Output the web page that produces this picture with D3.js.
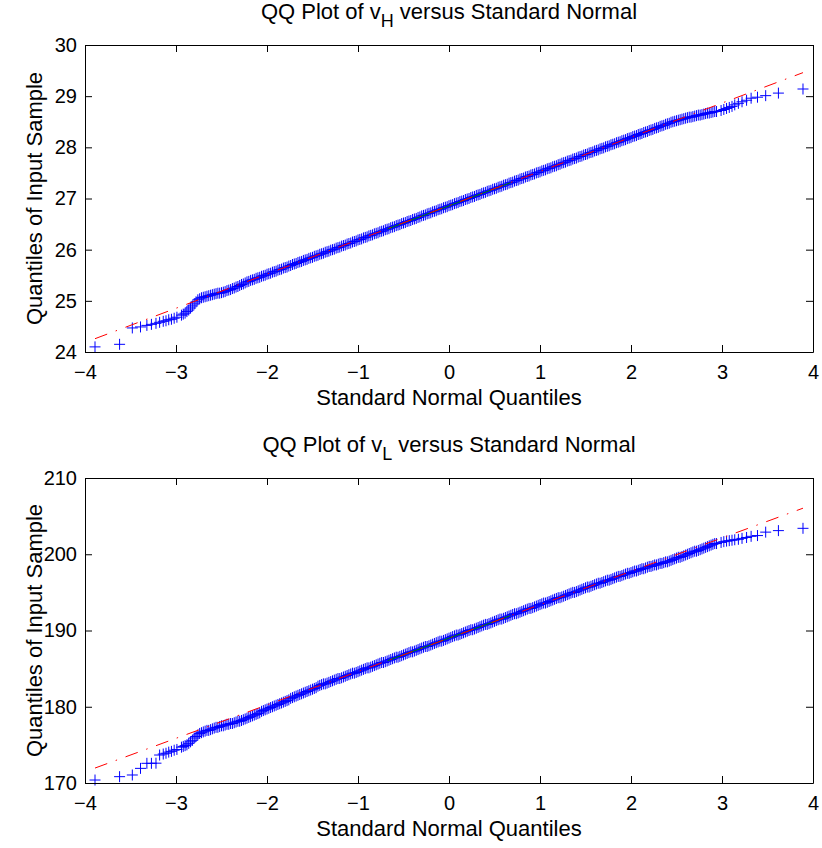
<!DOCTYPE html>
<html>
<head>
<meta charset="utf-8">
<script src="https://cdn.jsdelivr.net/npm/d3@7"></script>
<style>
  body { margin: 0; background: #fff; }
  text { font-family: 'Liberation Sans', Arial, Helvetica, sans-serif; fill: #000; }
  .axis path, .axis line { stroke: #000; }
</style>
</head>
<body>
<svg id="chart" width="822" height="848"></svg>
<script>
// theoretical normal quantiles of the plotted points (shared by both panels)
var quantiles = [
  -3.89, -3.62, -3.48, -3.39, -3.32, -3.27, -3.22, -3.18, -3.14, -3.11, -3.08, -3.05, -3.02, -2.99,
  -2.94, -2.92, -2.90, -2.88, -2.86, -2.84, -2.82, -2.80, -2.78, -2.76,
  -2.74, -2.72, -2.70, -2.68, -2.66, -2.64, -2.62, -2.60, -2.58, -2.56,
  -2.54, -2.52, -2.50, -2.48, -2.46, -2.44, -2.42, -2.40, -2.38, -2.36,
  -2.34, -2.32, -2.30, -2.28, -2.26, -2.24, -2.22, -2.20, -2.18, -2.16,
  -2.14, -2.12, -2.10, -2.08, -2.06, -2.04, -2.02, -2.00, -1.98, -1.96,
  -1.94, -1.92, -1.90, -1.88, -1.86, -1.84, -1.82, -1.80, -1.78, -1.76,
  -1.74, -1.72, -1.70, -1.68, -1.66, -1.64, -1.62, -1.60, -1.58, -1.56,
  -1.54, -1.52, -1.50, -1.48, -1.46, -1.44, -1.42, -1.40, -1.38, -1.36,
  -1.34, -1.32, -1.30, -1.28, -1.26, -1.24, -1.22, -1.20, -1.18, -1.16,
  -1.14, -1.12, -1.10, -1.08, -1.06, -1.04, -1.02, -1.00, -0.98, -0.96,
  -0.94, -0.92, -0.90, -0.88, -0.86, -0.84, -0.82, -0.80, -0.78, -0.76,
  -0.74, -0.72, -0.70, -0.68, -0.66, -0.64, -0.62, -0.60, -0.58, -0.56,
  -0.54, -0.52, -0.50, -0.48, -0.46, -0.44, -0.42, -0.40, -0.38, -0.36,
  -0.34, -0.32, -0.30, -0.28, -0.26, -0.24, -0.22, -0.20, -0.18, -0.16,
  -0.14, -0.12, -0.10, -0.08, -0.06, -0.04, -0.02, 0.00, 0.02, 0.04,
  0.06, 0.08, 0.10, 0.12, 0.14, 0.16, 0.18, 0.20, 0.22, 0.24,
  0.26, 0.28, 0.30, 0.32, 0.34, 0.36, 0.38, 0.40, 0.42, 0.44,
  0.46, 0.48, 0.50, 0.52, 0.54, 0.56, 0.58, 0.60, 0.62, 0.64,
  0.66, 0.68, 0.70, 0.72, 0.74, 0.76, 0.78, 0.80, 0.82, 0.84,
  0.86, 0.88, 0.90, 0.92, 0.94, 0.96, 0.98, 1.00, 1.02, 1.04,
  1.06, 1.08, 1.10, 1.12, 1.14, 1.16, 1.18, 1.20, 1.22, 1.24,
  1.26, 1.28, 1.30, 1.32, 1.34, 1.36, 1.38, 1.40, 1.42, 1.44,
  1.46, 1.48, 1.50, 1.52, 1.54, 1.56, 1.58, 1.60, 1.62, 1.64,
  1.66, 1.68, 1.70, 1.72, 1.74, 1.76, 1.78, 1.80, 1.82, 1.84,
  1.86, 1.88, 1.90, 1.92, 1.94, 1.96, 1.98, 2.00, 2.02, 2.04,
  2.06, 2.08, 2.10, 2.12, 2.14, 2.16, 2.18, 2.20, 2.22, 2.24,
  2.26, 2.28, 2.30, 2.32, 2.34, 2.36, 2.38, 2.40, 2.42, 2.44,
  2.46, 2.48, 2.50, 2.52, 2.54, 2.56, 2.58, 2.60, 2.62, 2.64,
  2.66, 2.68, 2.70, 2.72, 2.74, 2.76, 2.78, 2.80, 2.82, 2.84,
  2.86, 2.88, 2.90, 2.92, 2.94,
  2.99, 3.02, 3.05, 3.08, 3.11, 3.14, 3.18, 3.22, 3.27, 3.32, 3.39, 3.48, 3.62, 3.89
]

// sample quantiles of v_H
var vH = [
  24.10, 24.15, 24.47, 24.49, 24.52, 24.54, 24.56, 24.58, 24.60, 24.61, 24.63, 24.64, 24.66, 24.68,
  24.72, 24.74, 24.76, 24.79, 24.82, 24.86, 24.90, 24.94, 24.98, 25.02,
  25.04, 25.06, 25.07, 25.08, 25.09, 25.10, 25.11, 25.12, 25.13, 25.14,
  25.15, 25.15, 25.16, 25.17, 25.18, 25.20, 25.21, 25.22, 25.24, 25.25,
  25.27, 25.28, 25.30, 25.32, 25.33, 25.35, 25.37, 25.38, 25.40, 25.41,
  25.42, 25.44, 25.45, 25.46, 25.48, 25.49, 25.50, 25.52, 25.53, 25.54,
  25.56, 25.57, 25.58, 25.60, 25.61, 25.62, 25.64, 25.65, 25.66, 25.68,
  25.69, 25.71, 25.72, 25.73, 25.75, 25.76, 25.77, 25.79, 25.80, 25.81,
  25.83, 25.84, 25.85, 25.87, 25.88, 25.89, 25.91, 25.92, 25.93, 25.95,
  25.96, 25.97, 25.99, 26.00, 26.01, 26.03, 26.04, 26.05, 26.07, 26.08,
  26.09, 26.11, 26.12, 26.13, 26.15, 26.16, 26.17, 26.19, 26.20, 26.21,
  26.23, 26.24, 26.25, 26.27, 26.28, 26.29, 26.31, 26.32, 26.33, 26.35,
  26.36, 26.37, 26.39, 26.40, 26.41, 26.43, 26.44, 26.45, 26.47, 26.48,
  26.49, 26.51, 26.52, 26.53, 26.55, 26.56, 26.57, 26.59, 26.60, 26.61,
  26.63, 26.64, 26.66, 26.67, 26.68, 26.70, 26.71, 26.72, 26.74, 26.75,
  26.76, 26.78, 26.79, 26.80, 26.82, 26.83, 26.84, 26.86, 26.87, 26.88,
  26.90, 26.91, 26.92, 26.94, 26.95, 26.96, 26.98, 26.99, 27.00, 27.02,
  27.03, 27.04, 27.06, 27.07, 27.08, 27.10, 27.11, 27.12, 27.14, 27.15,
  27.16, 27.18, 27.19, 27.20, 27.22, 27.23, 27.24, 27.26, 27.27, 27.28,
  27.30, 27.31, 27.32, 27.34, 27.35, 27.36, 27.38, 27.39, 27.40, 27.42,
  27.43, 27.44, 27.46, 27.47, 27.48, 27.50, 27.51, 27.52, 27.54, 27.55,
  27.56, 27.58, 27.59, 27.60, 27.62, 27.63, 27.64, 27.66, 27.67, 27.69,
  27.70, 27.71, 27.73, 27.74, 27.75, 27.77, 27.78, 27.79, 27.81, 27.82,
  27.83, 27.85, 27.86, 27.87, 27.89, 27.90, 27.91, 27.93, 27.94, 27.95,
  27.97, 27.98, 27.99, 28.01, 28.02, 28.03, 28.05, 28.06, 28.07, 28.09,
  28.10, 28.11, 28.13, 28.14, 28.15, 28.17, 28.18, 28.19, 28.21, 28.22,
  28.23, 28.25, 28.26, 28.27, 28.29, 28.30, 28.31, 28.33, 28.34, 28.35,
  28.37, 28.38, 28.39, 28.41, 28.42, 28.43, 28.45, 28.46, 28.47, 28.49,
  28.50, 28.51, 28.52, 28.53, 28.54, 28.55, 28.56, 28.57, 28.58, 28.59,
  28.59, 28.60, 28.61, 28.62, 28.63, 28.63, 28.64, 28.65, 28.66, 28.67,
  28.67, 28.68, 28.69, 28.70, 28.70,
  28.72, 28.74, 28.76, 28.78, 28.80, 28.83, 28.86, 28.89, 28.92, 28.96, 28.98, 29.01, 29.06, 29.14
]

// sample quantiles of v_L
var vL = [
  170.39, 170.83, 171.05, 171.92, 172.58, 172.58, 172.60, 173.67, 173.80, 173.90, 174.05, 174.15, 174.30, 174.40,
  174.7, 174.8, 174.9, 175.0, 175.2, 175.4, 175.6, 175.9, 176.1, 176.3,
  176.5, 176.6, 176.7, 176.8, 176.9, 176.9, 177.0, 177.1, 177.2, 177.3,
  177.3, 177.4, 177.5, 177.5, 177.6, 177.7, 177.7, 177.8, 177.8, 177.9,
  178.0, 178.1, 178.1, 178.2, 178.3, 178.4, 178.5, 178.6, 178.7, 178.8,
  178.9, 179.0, 179.1, 179.2, 179.4, 179.5, 179.6, 179.7, 179.8, 179.9,
  180.0, 180.1, 180.2, 180.3, 180.4, 180.5, 180.6, 180.7, 180.8, 180.9,
  181.1, 181.2, 181.3, 181.4, 181.5, 181.6, 181.7, 181.8, 181.9, 182.0,
  182.1, 182.2, 182.3, 182.4, 182.5, 182.7, 182.8, 182.9, 183.0, 183.0,
  183.1, 183.2, 183.3, 183.4, 183.5, 183.6, 183.7, 183.7, 183.8, 183.9,
  184.0, 184.1, 184.2, 184.3, 184.4, 184.4, 184.5, 184.6, 184.7, 184.8,
  184.9, 185.0, 185.1, 185.1, 185.2, 185.3, 185.4, 185.5, 185.6, 185.7,
  185.8, 185.8, 185.9, 186.0, 186.1, 186.2, 186.3, 186.4, 186.5, 186.5,
  186.6, 186.7, 186.8, 186.9, 187.0, 187.1, 187.2, 187.2, 187.3, 187.4,
  187.5, 187.6, 187.7, 187.8, 187.9, 187.9, 188.0, 188.1, 188.2, 188.3,
  188.4, 188.5, 188.6, 188.6, 188.7, 188.8, 188.9, 189.0, 189.1, 189.2,
  189.3, 189.4, 189.4, 189.5, 189.6, 189.7, 189.8, 189.9, 190.0, 190.1,
  190.1, 190.2, 190.3, 190.4, 190.5, 190.6, 190.7, 190.8, 190.8, 190.9,
  191.0, 191.1, 191.2, 191.3, 191.4, 191.5, 191.5, 191.6, 191.7, 191.8,
  191.9, 192.0, 192.1, 192.2, 192.2, 192.3, 192.4, 192.5, 192.6, 192.7,
  192.8, 192.9, 192.9, 193.0, 193.1, 193.2, 193.3, 193.4, 193.5, 193.6,
  193.6, 193.7, 193.8, 193.9, 194.0, 194.1, 194.2, 194.3, 194.3, 194.4,
  194.5, 194.6, 194.7, 194.8, 194.9, 195.0, 195.0, 195.1, 195.2, 195.3,
  195.4, 195.5, 195.6, 195.7, 195.7, 195.8, 195.9, 196.0, 196.1, 196.2,
  196.2, 196.3, 196.4, 196.5, 196.6, 196.6, 196.7, 196.8, 196.9, 197.0,
  197.1, 197.1, 197.2, 197.3, 197.4, 197.5, 197.5, 197.6, 197.7, 197.8,
  197.8, 197.9, 198.0, 198.1, 198.1, 198.2, 198.3, 198.4, 198.4, 198.5,
  198.6, 198.6, 198.7, 198.8, 198.8, 198.9, 199.0, 199.0, 199.1, 199.2,
  199.3, 199.4, 199.5, 199.6, 199.6, 199.7, 199.8, 199.9, 200.0, 200.1,
  200.2, 200.3, 200.4, 200.4, 200.5, 200.6, 200.7, 200.8, 200.9, 201.0,
  201.1, 201.2, 201.3, 201.4, 201.4,
  201.55, 201.65, 201.72, 201.78, 201.84, 201.90, 201.96, 202.08, 202.20, 202.35, 202.45, 202.90, 203.10, 203.40
]

// fitted lines: quartile segment and its extension over the data range
var quartQ = [-0.674, 0.674]
var quartH = [26.405, 27.307]
var quartL = [186.05, 191.95]
var extQ = [-3.89, 3.89]
var extH = [24.26, 29.46]
var extL = [171.96, 206.04]

var xTicks = [-4, -3, -2, -1, 0, 1, 2, 3, 4]
var yTicksH = [24, 25, 26, 27, 28, 29, 30]
var yTicksL = [170, 180, 190, 200, 210]

var svg = d3.select('#chart')
var left = 85, right = 813
var tickLen = 7
var tickFont = 20, labelFont = 22

var x = d3.scaleLinear().domain([-4, 4]).range([left, right])

var fmt = function(d) { return d < 0 ? '\u2212' + Math.abs(d) : '' + d }

function drawPanel(top, bottom, yDomain, yTicks, values, quartY, extY, sub) {
  var y = d3.scaleLinear().domain(yDomain).range([bottom, top])
  var g = svg.append('g')

  // '+' markers
  var pts = quantiles.map(function(q, i) { return [x(q), y(values[i])] })
  g.append('g').selectAll('path.pt')
    .data(pts).enter().append('path')
    .attr('class', 'pt')
    .attr('d', function(p) {
      return 'M' + (p[0] - 5.5) + ',' + p[1] + 'H' + (p[0] + 5.5) +
        'M' + p[0] + ',' + (p[1] - 5.5) + 'V' + (p[1] + 5.5)
    })
    .attr('stroke', '#0000ff')
    .attr('stroke-width', 1)
    .attr('fill', 'none')

  var line = d3.line()
    .x(function(d) { return x(d[0]) })
    .y(function(d) { return y(d[1]) })

  g.append('path')
    .attr('d', line(quartQ.map(function(q, i) { return [q, quartY[i]] })))
    .attr('stroke', '#008000')
    .attr('stroke-width', 1)
    .attr('fill', 'none')

  g.append('path')
    .attr('d', line(extQ.map(function(q, i) { return [q, extY[i]] })))
    .attr('stroke', '#ff0000')
    .attr('stroke-width', 1)
    .attr('stroke-dasharray', '13,9,1.5,9')
    .attr('fill', 'none')

  // box with inward ticks on all four sides
  var _axis = function(gen, tx, ty, labels) {
    var a = g.append('g').attr('class', 'axis')
      .attr('transform', 'translate(' + tx + ',' + ty + ')')
      .call(gen)
    a.selectAll('text').style('font-size', tickFont + 'px')
    if (!labels) a.selectAll('text').remove()
    return a
  }
  _axis(d3.axisBottom(x).tickValues(xTicks).tickFormat(fmt).tickSize(-tickLen).tickSizeOuter(0).tickPadding(13), 0, bottom, true)
  _axis(d3.axisTop(x).tickValues(xTicks).tickSize(-tickLen).tickSizeOuter(0), 0, top, false)
  _axis(d3.axisLeft(y).tickValues(yTicks).tickFormat(fmt).tickSize(-tickLen).tickSizeOuter(0).tickPadding(8), left, 0, true)
  _axis(d3.axisRight(y).tickValues(yTicks).tickSize(-tickLen).tickSizeOuter(0), right, 0, false)

  // title with subscript
  var title = g.append('text')
    .attr('x', (left + right) / 2)
    .attr('y', top - 26)
    .attr('text-anchor', 'middle')
    .style('font-size', labelFont + 'px')
  title.append('tspan').text('QQ Plot of v')
  title.append('tspan').attr('dy', 8).style('font-size', '18px').text(sub)
  title.append('tspan').attr('dy', -8).text(' versus Standard Normal')

  g.append('text')
    .attr('x', (left + right) / 2)
    .attr('y', bottom + 53)
    .attr('text-anchor', 'middle')
    .style('font-size', labelFont + 'px')
    .text('Standard Normal Quantiles')

  g.append('text')
    .attr('transform', 'translate(42,' + (top + bottom) / 2 + ') rotate(-90)')
    .attr('text-anchor', 'middle')
    .style('font-size', labelFont + 'px')
    .text('Quantiles of Input Sample')
}

drawPanel(45, 352, [24, 30], yTicksH, vH, quartH, extH, 'H')
drawPanel(478, 783, [170, 210], yTicksL, vL, quartL, extL, 'L')
</script>
</body>
</html>
